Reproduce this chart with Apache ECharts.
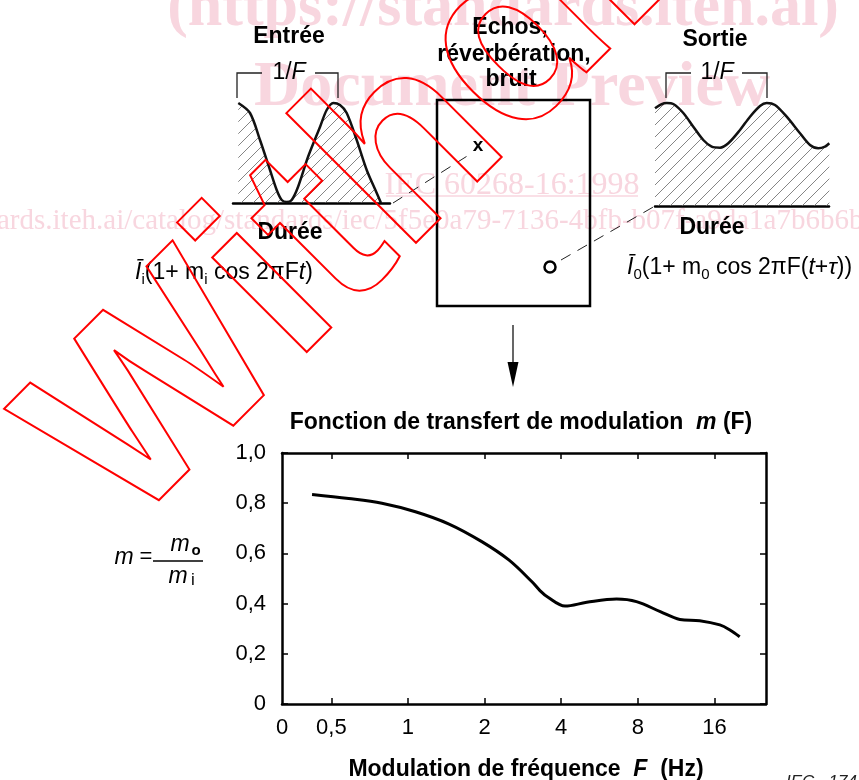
<!DOCTYPE html>
<html>
<head>
<meta charset="utf-8">
<script src="https://cdn.jsdelivr.net/npm/echarts@6/dist/echarts.min.js"></script>
<style>
html,body{margin:0;padding:0;background:#fff;}
#chart{width:859px;height:780px;}
</style>
</head>
<body>
<div id="chart"></div>
<script>
// ---- Data ----
// Modulation transfer function curve: modulation frequency F (Hz) and m(F)
const freqHz = [0.42, 0.585, 0.79, 1.07, 1.45, 1.95, 2.49, 3.07, 3.3, 3.55, 4.14, 5.04, 6.6, 7.9, 9.8, 11.7, 14.0, 16.8, 18.4, 20.1];
const mtf    = [0.835, 0.819, 0.800, 0.766, 0.717, 0.647, 0.574, 0.487, 0.452, 0.425, 0.390, 0.405, 0.418, 0.408, 0.368, 0.337, 0.332, 0.315, 0.295, 0.268];
// x tick labels (octave spaced) and y tick labels
const xTickHz = [0.5, 1, 2, 4, 8, 16];
const xTickLabels = ['0,5', '1', '2', '4', '8', '16'];
const xOriginLabel = '0';
const xRangeHz = [0.32, 25.5];
const yTicks = [0, 0.2, 0.4, 0.6, 0.8, 1.0];
const yTickLabels = ['0', '0,2', '0,4', '0,6', '0,8', '1,0'];
// Input signal sketch (time in periods, relative intensity)
const entreeT = [0.013, 0.13, 0.23, 0.33, 0.397, 0.447, 0.497, 0.547, 0.61, 0.71, 0.83, 0.897, 0.963, 1.03, 1.097, 1.197, 1.297, 1.397, 1.44];
const entreeI = [1.0, 0.90, 0.63, 0.33, 0.13, 0.03, 0.01, 0.03, 0.16, 0.46, 0.76, 0.93, 1.0, 0.98, 0.90, 0.63, 0.33, 0.10, 0.0];
// Output signal sketch
const sortieT = [0, 0.067, 0.117, 0.183, 0.283, 0.383, 0.483, 0.567, 0.65, 0.733, 0.85, 0.95, 1.05, 1.117, 1.2, 1.317, 1.45, 1.55, 1.633, 1.70, 1.743];
const sortieI = [0.949, 0.990, 1.0, 0.990, 0.903, 0.770, 0.641, 0.576, 0.566, 0.609, 0.738, 0.867, 0.971, 1.0, 0.981, 0.867, 0.706, 0.592, 0.560, 0.576, 0.609];

// ---- Build ----
const FF = '"Liberation Sans", Arial, Helvetica, sans-serif';
const SERIF = '"Liberation Serif", "Times New Roman", serif';
const XMIN = Math.log2(xRangeHz[0]);
const XMAX = Math.log2(xRangeHz[1]);
const xTickPos = xTickHz.map(Math.log2);

function hatch() {
  const s = 12;
  const c = document.createElement('canvas');
  c.width = s; c.height = s;
  const g = c.getContext('2d');
  g.strokeStyle = '#666';
  g.lineWidth = 0.8;
  g.beginPath();
  g.moveTo(0, s); g.lineTo(s, 0);
  g.moveTo(-2, 2); g.lineTo(2, -2);
  g.moveTo(s - 2, s + 2); g.lineTo(s + 2, s - 2);
  g.stroke();
  return c;
}
const hatchPattern = { image: hatch(), repeat: 'repeat' };

function xLabel(v) {
  if (Math.abs(v - XMIN) < 1e-6) return xOriginLabel;
  for (let i = 0; i < xTickPos.length; i++) if (Math.abs(v - xTickPos[i]) < 1e-6) return xTickLabels[i];
  return '';
}
function yLabel(v) {
  for (let i = 0; i < yTicks.length; i++) if (Math.abs(v - yTicks[i]) < 1e-6) return yTickLabels[i];
  return '';
}

const frameLine = { show: true, onZero: false, lineStyle: { color: '#000', width: 2.5 } };
const innerTick = { show: true, inside: true, length: 6, lineStyle: { color: '#000', width: 1.5 } };

function txt(text, x, y, opt) {
  opt = opt || {};
  return {
    type: 'text', x: x, y: y, z: opt.z != null ? opt.z : 50,
    style: Object.assign({
      text: text,
      font: opt.font || ('bold 23px ' + FF),
      fill: opt.fill || '#000',
      textAlign: opt.align || 'center', align: opt.align || 'center',
      textVerticalAlign: opt.valign || 'middle', verticalAlign: opt.valign || 'middle'
    }, opt.style || {})
  };
}
function richTxt(text, x, y, rich, align) {
  return {
    type: 'text', x: x, y: y, z: 50,
    style: {
      text: text, rich: rich, fill: '#000',
      fontSize: 22, fontFamily: FF,
      textAlign: align || 'left', align: align || 'left',
      textVerticalAlign: 'middle', verticalAlign: 'middle'
    }
  };
}
const formulaRich = {
  n: { fontSize: 23, fontFamily: FF, lineHeight: 28, fill: '#000', color: '#000' },
  it: { fontSize: 23, fontFamily: FF, fontStyle: 'italic', lineHeight: 28, fill: '#000', color: '#000' },
  s: { fontSize: 15, fontFamily: FF, lineHeight: 15, verticalAlign: 'bottom', fill: '#000', color: '#000' }
};
const bracketRich = {
  n: { fontSize: 23, fontFamily: FF, lineHeight: 26, fill: '#000', color: '#000' },
  it: { fontSize: 23, fontFamily: FF, fontStyle: 'italic', lineHeight: 26, fill: '#000', color: '#000' }
};
function line(x1, y1, x2, y2, w, dash, color) {
  return { type: 'line', z: 50, shape: { x1: x1, y1: y1, x2: x2, y2: y2 },
    style: { stroke: color || '#000', lineWidth: w || 1, lineDash: dash || null } };
}
function poly(points, w) {
  return { type: 'polyline', z: 50, shape: { points: points }, style: { stroke: '#222', lineWidth: w || 1.3, fill: null } };
}

const pink = '#f8d6df';
const graphics = [
  // watermark (pink)
  txt('(https://standards.iteh.ai)', 503, 40, { font: 'bold 62px ' + SERIF, fill: pink, valign: 'bottom', z: -5 }),
  txt('Document Preview', 512, 120, { font: 'bold 64px ' + SERIF, fill: pink, valign: 'bottom', z: -5 }),
  txt('IEC 60268-16:1998', 512, 202, { font: '32px ' + SERIF, fill: pink, valign: 'bottom', z: -5 }),
  line(386, 196, 638, 196, 1.5, null, pink),
  txt('ards.iteh.ai/catalog/standards/iec/5f5e0a79-7136-4bfb-b07f-a9da1a7b6b6b/iec-60268-16-1998', -3, 236, { font: '29px ' + SERIF, fill: pink, align: 'left', valign: 'bottom', z: -5 }),

  // titles of the diagram
  txt('Entrée', 289, 37),
  txt('Echos,', 510, 28),
  txt('réverbération,', 514, 55),
  txt('bruit', 511, 80),
  txt('Sortie', 715, 40),
  txt('Durée', 290, 233),
  txt('Durée', 712, 228),

  // 1/F brackets
  poly([[262, 73], [237, 73], [237, 98]]),
  poly([[315, 73], [338, 73], [338, 98]]),
  richTxt('{n|1/}{it|F}', 289, 73, bracketRich, 'center'),
  poly([[691, 73], [666, 73], [666, 98]]),
  poly([[742, 73], [767, 73], [767, 98]]),
  richTxt('{n|1/}{it|F}', 717, 73, bracketRich, 'center'),

  // formulas
  richTxt('{it|Ī}{s|i}{n|(1+ m}{s|i}{n| cos 2πF}{it|t}{n|)}', 135, 273, formulaRich),
  richTxt('{it|Ī}{s|0}{n|(1+ m}{s|0}{n| cos 2πF(}{it|t}{n|+}{it|τ}{n|))}', 627, 268, formulaRich),

  // box
  { type: 'rect', z: 50, shape: { x: 437, y: 100, width: 153, height: 206 }, style: { stroke: '#000', lineWidth: 2.5, fill: null } },
  txt('x', 478, 146, { font: 'bold 19px ' + FF }),
  { type: 'circle', z: 50, shape: { cx: 550, cy: 267, r: 5.5 }, style: { stroke: '#000', lineWidth: 2.5, fill: null } },
  line(393, 203, 472, 153, 1, [11, 8], '#222'),
  line(561, 260, 655, 206, 1, [11, 8], '#222'),

  // arrow
  line(513, 325, 513, 366, 1.2),
  { type: 'polygon', z: 50, shape: { points: [[507.5, 362], [518.5, 362], [513, 387]] }, style: { fill: '#000' } },

  // main chart texts
  richTxt('{b|Fonction de transfert de modulation  }{bi|m}{b| (F)}', 521, 423, {
    b: { fontSize: 23, fontWeight: 'bold', fontFamily: FF, fill: '#000', color: '#000' },
    bi: { fontSize: 23, fontWeight: 'bold', fontStyle: 'italic', fontFamily: FF, fill: '#000', color: '#000' }
  }, 'center'),
  richTxt('{b|Modulation de fréquence  }{bi|F}{b|  (Hz)}', 526, 770, {
    b: { fontSize: 23, fontWeight: 'bold', fontFamily: FF, fill: '#000', color: '#000' },
    bi: { fontSize: 23, fontWeight: 'bold', fontStyle: 'italic', fontFamily: FF, fill: '#000', color: '#000' }
  }, 'center'),
  txt('IEC   174/98', 786, 774, { font: 'italic 17px ' + FF, align: 'left', valign: 'top', fill: '#222' }),

  // m = mo / mi
  txt('m', 124, 558, { font: 'italic 23px ' + FF }),
  txt('=', 146, 557, { font: '22px ' + FF }),
  line(153, 561, 203, 561, 1.6),
  txt('m', 180, 545, { font: 'italic 23px ' + FF }),
  txt('o', 196, 551, { font: 'bold 15px ' + FF }),
  txt('m', 178, 577, { font: 'italic 23px ' + FF }),
  txt('i', 193, 580, { font: '17px ' + FF }),

  // red outlined watermark word
  { type: 'text', x: 167, y: 572, rotation: Math.PI / 4, z: 200,
    style: { text: 'Withdrawn', font: 'bold 253px ' + FF, fill: 'rgba(0,0,0,0)', stroke: '#ff0000', lineWidth: 2,
      textAlign: 'left', align: 'left', textVerticalAlign: 'bottom', verticalAlign: 'bottom' } }
];

const chart = echarts.init(document.getElementById('chart'), null, { renderer: 'canvas' });
chart.setOption({
  animation: false,
  backgroundColor: '#fff',
  grid: [
    { left: 282, top: 453, width: 484, height: 251 },
    { left: 233, top: 103, width: 157, height: 100 },
    { left: 655, top: 103, width: 174, height: 103 }
  ],
  xAxis: [
    { gridIndex: 0, type: 'value', min: XMIN, max: XMAX, position: 'bottom',
      axisLine: frameLine, axisTick: Object.assign({ customValues: xTickPos }, innerTick),
      axisLabel: { customValues: [XMIN].concat(xTickPos), formatter: xLabel, fontSize: 22, fontFamily: FF, color: '#000', margin: 13 },
      splitLine: { show: false } },
    { gridIndex: 0, type: 'value', min: XMIN, max: XMAX, position: 'top',
      axisLine: frameLine, axisTick: Object.assign({ customValues: xTickPos }, innerTick),
      axisLabel: { show: false }, splitLine: { show: false } },
    { gridIndex: 1, type: 'value', min: -0.04, max: 1.53,
      axisLine: frameLine, axisTick: { show: false }, axisLabel: { show: false }, splitLine: { show: false } },
    { gridIndex: 2, type: 'value', min: 0, max: 1.74,
      axisLine: frameLine, axisTick: { show: false }, axisLabel: { show: false }, splitLine: { show: false } }
  ],
  yAxis: [
    { gridIndex: 0, type: 'value', min: 0, max: 1, interval: 0.2, position: 'left',
      axisLine: frameLine, axisTick: innerTick,
      axisLabel: { formatter: yLabel, fontSize: 22, fontFamily: FF, color: '#000', margin: 16 },
      splitLine: { show: false } },
    { gridIndex: 0, type: 'value', min: 0, max: 1, interval: 0.2, position: 'right',
      axisLine: frameLine, axisTick: innerTick, axisLabel: { show: false }, splitLine: { show: false } },
    { gridIndex: 1, type: 'value', min: 0, max: 1, show: false },
    { gridIndex: 2, type: 'value', min: 0, max: 1, show: false }
  ],
  series: [
    { type: 'line', xAxisIndex: 0, yAxisIndex: 0, smooth: 0.35, symbol: 'none', clip: false,
      lineStyle: { color: '#000', width: 3 },
      data: freqHz.map((f, i) => [Math.log2(f), mtf[i]]) },
    { type: 'line', xAxisIndex: 2, yAxisIndex: 2, smooth: 0.3, symbol: 'none', clip: false,
      lineStyle: { color: '#111', width: 2.5 }, areaStyle: { color: hatchPattern, opacity: 1 },
      data: entreeT.map((t, i) => [t, entreeI[i]]) },
    { type: 'line', xAxisIndex: 3, yAxisIndex: 3, smooth: 0.3, symbol: 'none', clip: false,
      lineStyle: { color: '#111', width: 2.5 }, areaStyle: { color: hatchPattern, opacity: 1 },
      data: sortieT.map((t, i) => [t, sortieI[i]]) }
  ],
  graphic: { elements: graphics }
});
</script>
</body>
</html>
